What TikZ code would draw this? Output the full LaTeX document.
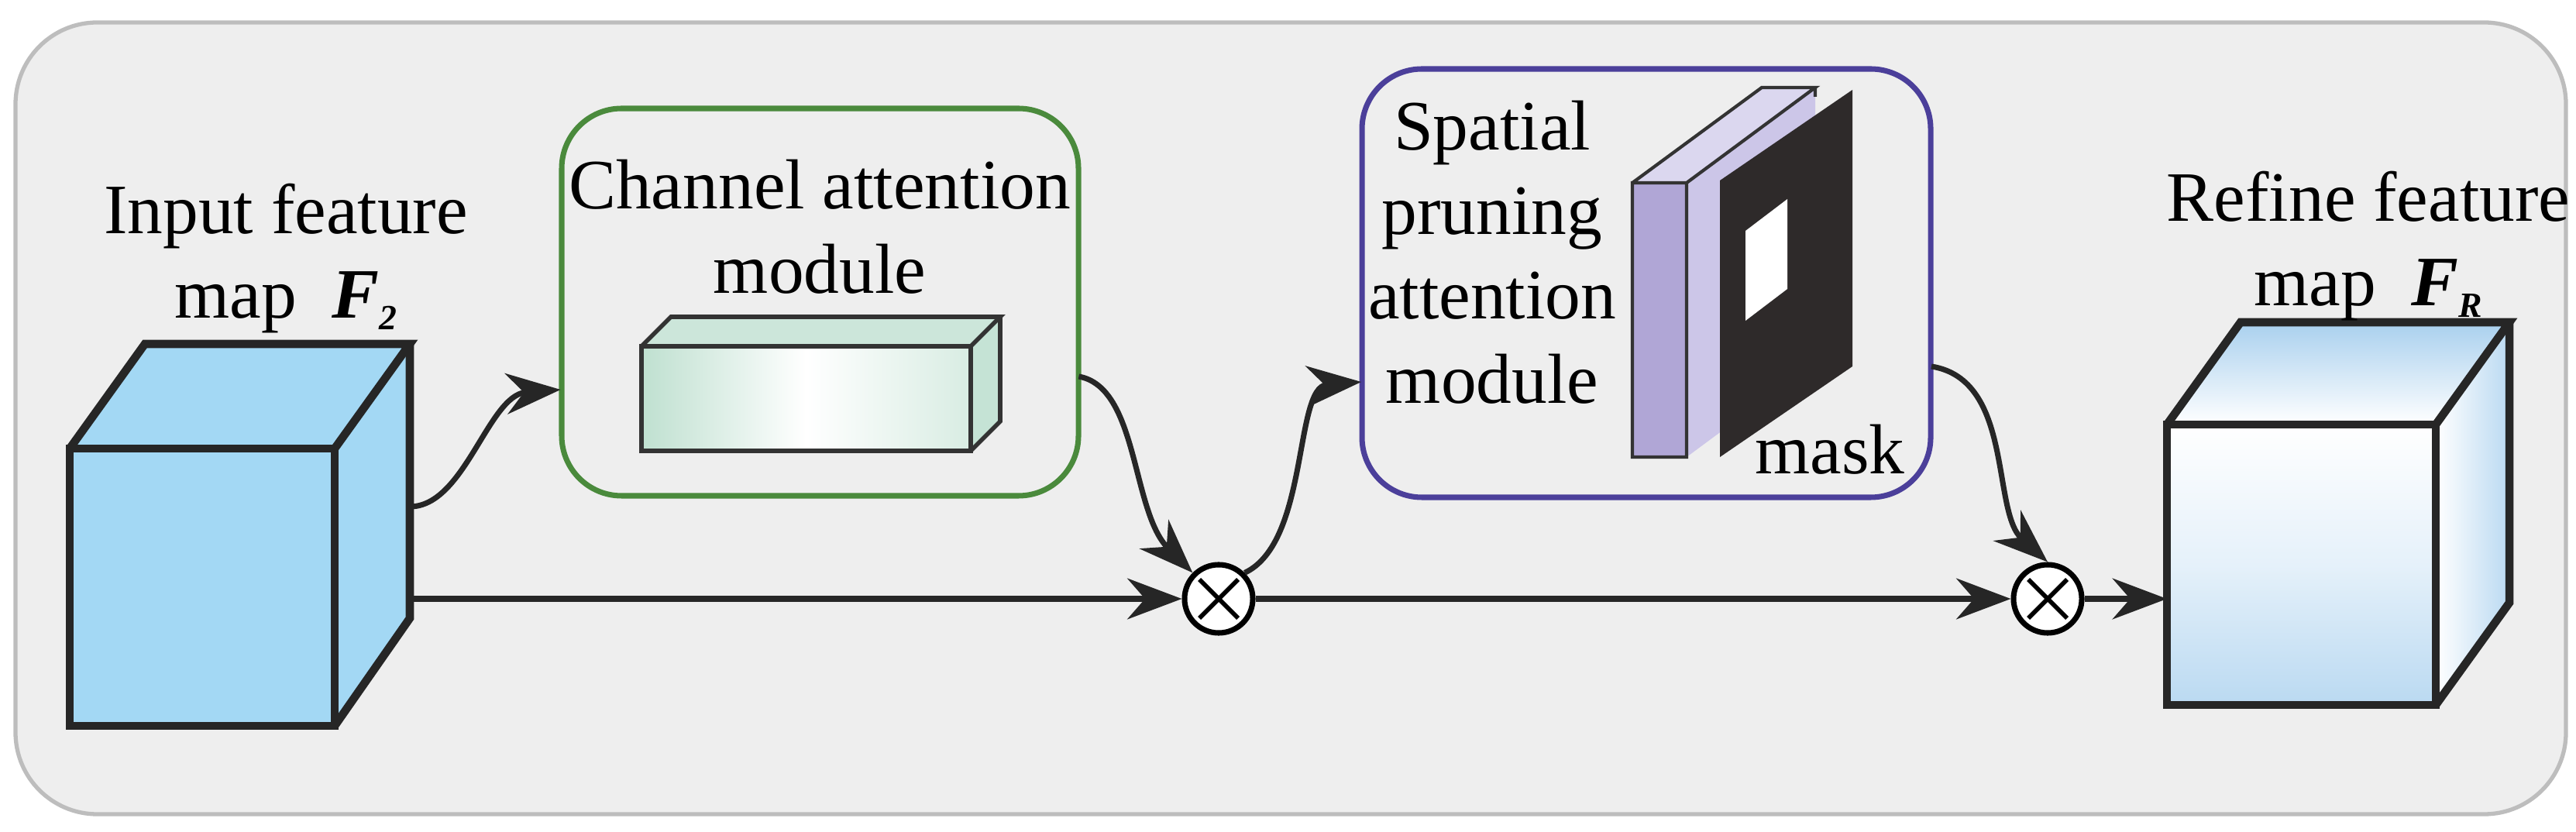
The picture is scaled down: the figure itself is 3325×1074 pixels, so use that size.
\documentclass[tikz,border=0pt]{standalone}
\usepackage{fontspec}
\setmainfont{Liberation Serif}
\usetikzlibrary{arrows.meta}
\definecolor{bg}{HTML}{EEEEEE}
\definecolor{bgline}{HTML}{BDBDBD}
\definecolor{cubeblue}{HTML}{A3D8F4}
\definecolor{gbox}{HTML}{4A8A3C}
\definecolor{pbox}{HTML}{4B3F9A}
\definecolor{mint}{HTML}{BFE0D0}
\definecolor{slab}{HTML}{B0A6D6}
\definecolor{slabside}{HTML}{CCC6E8}
\definecolor{maskc}{HTML}{2E2A2A}
\definecolor{rblue}{HTML}{A9D0EE}
\newcommand{\fsym}[1]{\textbf{\textit{F}}\raisebox{-0.35ex}{\fontsize{13}{13}\selectfont\textbf{\textit{#1}}}}
\tikzset{
  x=0.01cm,y=-0.01cm,
  edge/.style={line width=3pt,draw=black!85,line join=miter},
  conn/.style={line width=2pt,draw=black!85,-{Stealth[length=20pt,width=15pt]}},
  lbl/.style={font=\fontsize{26}{31}\selectfont,align=center,inner sep=0pt},
  module/.style={rounded corners=22pt,line width=2pt,fill=none},
  otimes/.style={circle,draw=black,line width=2pt,fill=white,minimum size=0.88cm,inner sep=0pt}
}
\begin{document}
\begin{tikzpicture}
\useasboundingbox (0,0) rectangle (3325,1074);
\draw[fill=bg,draw=bgline,line width=1.5pt,rounded corners=30pt] (20,29) rectangle (3312,1051);
% input cube
\fill[cubeblue] (90,579) -- (187,444) -- (529,444) -- (529,798) -- (432,937) -- (90,937) -- cycle;
\draw[edge] (90,579) rectangle (432,937);
\draw[edge] (90,579) -- (187,444) -- (529,444) -- (432,579);
\draw[edge] (529,444) -- (529,798) -- (432,937);
\coordinate (inR1) at (529,654);
\coordinate (inR2) at (529,773);
\node[lbl] (inlbl) at (369,334) {Input feature\\map~~\fsym{2}};
% channel module
\draw[module,draw=gbox] (725,140) rectangle (1392,640);
\node (cam) at (1058,390) [minimum width=6.67cm,minimum height=5cm] {};
\node[lbl] (camlbl) at (1058,293) {Channel attention\\module};
\shade[left color=mint,right color=mint!60,middle color=white] (828,447) rectangle (1253,582);
\fill[mint!80] (828,447) -- (866,409) -- (1291,409) -- (1253,447) -- cycle;
\fill[mint!90] (1253,447) -- (1291,409) -- (1291,544) -- (1253,582) -- cycle;
\draw[line width=1.6pt,draw=black!80] (828,447) rectangle (1253,582);
\draw[line width=1.6pt,draw=black!80] (828,447) -- (866,409) -- (1291,409) -- (1253,447) (1291,409) -- (1291,544) -- (1253,582);
% spatial module
\draw[module,draw=pbox] (1758,89) rectangle (2492,642);
\node (sam) at (2125,365) [minimum width=7.34cm,minimum height=5.53cm] {};
\node[lbl] (samlbl) at (1926,326) {Spatial\\pruning\\attention\\module};
\fill[slab] (2107,236) rectangle (2177,590);
\fill[slabside] (2177,236) -- (2343,113) -- (2343,467) -- (2177,590) -- cycle;
\fill[slabside!70!white] (2107,236) -- (2274,113) -- (2343,113) -- (2177,236) -- cycle;
\draw[line width=1.2pt,draw=black!80] (2107,236) rectangle (2177,590) (2107,236) -- (2274,113) -- (2343,113) -- (2177,236) (2343,113) -- (2343,125);
\fill[maskc] (2220,233) -- (2391,116) -- (2391,473) -- (2220,590) -- cycle;
\fill[white] (2253,298) -- (2307,257) -- (2307,373) -- (2253,414) -- cycle;
\node[lbl] (masklbl) at (2362,580) {mask};
% otimes
\node[otimes] (o1) at (1573,773) {};
\node[otimes] (o2) at (2643,773) {};
\foreach \o in {o1,o2}{
  \draw[line width=1.6pt] ([shift={(-25,-25)}]\o.center) -- ([shift={(25,25)}]\o.center);
  \draw[line width=1.6pt] ([shift={(-25,25)}]\o.center) -- ([shift={(25,-25)}]\o.center);
}
% refine cube
\shade[top color=rblue,bottom color=white] (2797,548) -- (2892,416) -- (3239,416) -- (3144,548) -- cycle;
\shade[top color=white,bottom color=rblue!80,middle color=rblue!30] (2797,548) rectangle (3144,910);
\shade[left color=white,right color=rblue!80] (3144,548) -- (3239,416) -- (3239,778) -- (3144,910) -- cycle;
\draw[edge] (2797,548) rectangle (3144,910);
\draw[edge] (2797,548) -- (2892,416) -- (3239,416) -- (3144,548);
\draw[edge] (3239,416) -- (3239,778) -- (3144,910);
\coordinate (outL) at (2797,773);
\node[lbl] (outlbl) at (3057,318) {Refine feature\\map~~\fsym{R}};
% connectors
\draw[conn] (inR1) .. controls (600,654) and (630,510) .. (cam.west |- 0,503);
\draw[conn] (inR2) -- (o1);
\draw[conn] (cam.east |- 0,486) .. controls (1470,500) and (1460,660) .. (o1.north west);
\draw[conn] (o1.north east) .. controls (1690,700) and (1670,500) .. (sam.west |- 0,493);
\draw[conn] (o1) -- (o2);
\draw[conn] (sam.east |- 0,473) .. controls (2600,490) and (2570,660) .. (o2.north);
\draw[conn] (o2) -- (outL);
\end{tikzpicture}
\end{document}
